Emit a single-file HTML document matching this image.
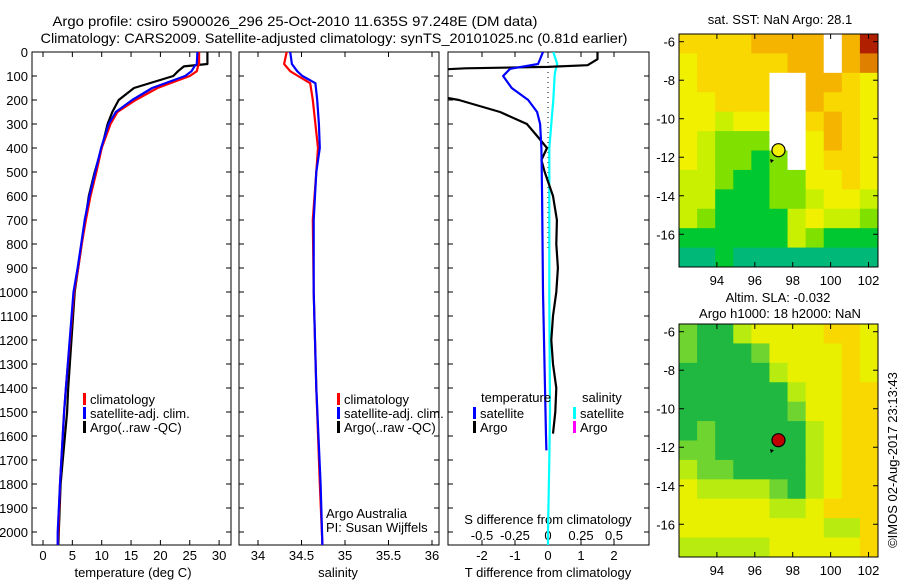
<!DOCTYPE html>
<html><head><meta charset="utf-8"><style>
html,body{margin:0;padding:0;background:#fff}
svg{display:block;font-family:"Liberation Sans",sans-serif}
text{font-size:13px;fill:#000}
</style></head><body>
<svg id="fig" width="900" height="580" viewBox="0 0 900 580" xmlns="http://www.w3.org/2000/svg">
<text x="295" y="26" text-anchor="middle" textLength="485" lengthAdjust="spacingAndGlyphs" style="font-size:14px">Argo profile: csiro 5900026_296 25-Oct-2010 11.635S 97.248E (DM data)</text>
<text x="334" y="43" text-anchor="middle" textLength="587" lengthAdjust="spacingAndGlyphs" style="font-size:14px">Climatology: CARS2009. Satellite-adjusted climatology: synTS_20101025.nc (0.81d earlier)</text>
<g id="g"></g>
</svg>
<script>
// ---- data ----
const depthLevels = [0,50,60,80,100,150,200,250,300,400,500,600,700,800,900,1000,1400,1500,1800,2000,2054];
const tempClim = [26.6,26.6,26.4,26.2,25.0,19.5,15.8,12.7,11.5,10.0,9.1,8.1,7.3,6.6,6.0,5.3,3.9,3.6,2.9,2.6,2.5];
const tempSat  = [26.3,26.2,25.8,25.3,24.2,18.6,15.2,12.4,11.2,9.9,8.9,7.9,7.1,6.5,5.9,5.2,3.9,3.6,2.9,2.5,2.5];
const tempArgo = [28.0,28.0,24.0,23.0,22.2,15.5,12.9,11.8,11.0,10.0,8.8,7.8,7.2,6.6,6.0,5.4,4.3,4.1,3.0,2.7,2.6];
const salDepth = [0,50,80,100,130,200,300,400,500,700,1000,1400,1800,2054];
const salClim = [34.33,34.30,34.37,34.46,34.60,34.63,34.66,34.69,34.67,34.63,34.64,34.67,34.71,34.74];
const salSat  = [34.37,34.39,34.45,34.51,34.66,34.68,34.70,34.71,34.67,34.64,34.64,34.67,34.72,34.74];
const tdDepth = [0,30,55,62,68,75,180,200,250,300,350,400,450,500,600,700,800,900,1000,1100,1200,1300,1400,1500,1590];
const tdArgo = [1.5,1.5,1.2,0.0,-2.5,-3.5,-3.5,-2.7,-1.45,-0.64,-0.33,-0.03,-0.2,-0.1,0.15,0.27,0.25,0.3,0.25,0.15,0.1,0.15,0.25,0.22,0.15];
const tdSatDepth = [0,50,70,100,150,200,250,300,400,600,1000,1600,1660];
const tdSat = [-0.15,-0.3,-1.15,-1.36,-1.1,-0.6,-0.33,-0.24,-0.2,-0.18,-0.15,-0.06,-0.05];
const sdDepth = [0,50,80,100,200,300,400,600,1000,1500,1700,2000,2054];
const sdSat = [0.04,0.07,0.055,0.05,0.04,0.025,0.01,0.01,0.01,0.015,0.01,0.0,0.0];
const depthTicks = [0,100,200,300,400,500,600,700,800,900,1000,1100,1200,1300,1400,1500,1600,1700,1800,1900,2000];
const tempTicks = [0,5,10,15,20,25,30];
const salTicks = [34,34.5,35,35.5,36];
const tdTicks = [-2,-1,0,1,2];
const sdTicks = [-0.5,-0.25,0,0.25,0.5];
const sdTickLabels = ["-0.5","-0.25","0","0.25","0.5"];
const lonTicks = [94,96,98,100,102];
const latTicks = [-6,-8,-10,-12,-14,-16];
// heatmap codes (rows lat -6..-17, cols lon 92..102), -1 = NaN
const sstGrid = [
[5,5,5,5,6,6,6,6,-1,6,8],
[4,5,5,5,5,5,6,6,-1,6,7],
[4,5,5,5,5,-1,-1,6,6,5,4],
[4,4,5,5,5,-1,-1,6,5,5,4],
[4,4,3,4,4,-1,-1,5,6,5,4],
[4,3,2,2,2,-1,-1,4,6,5,4],
[4,3,2,2,1,2,-1,4,5,5,4],
[3,3,2,1,1,2,2,4,4,5,4],
[3,3,1,1,1,2,2,3,4,4,3],
[3,2,1,1,1,1,3,4,3,3,2],
[1,1,1,1,1,1,3,2,1,1,1],
[0,0,1,0,0,0,0,0,0,0,0]];
const slaGrid = [
[2,1,1,3,4,4,4,4,5,5,4],
[2,1,1,1,2,4,4,4,4,5,4],
[1,1,1,1,1,3,4,4,4,5,4],
[1,1,1,1,1,1,3,4,4,5,5],
[1,1,1,1,1,1,2,4,4,5,5],
[1,2,1,1,1,1,1,3,4,5,5],
[2,2,1,1,1,1,1,3,4,5,5],
[3,2,2,1,1,1,1,3,4,5,5],
[4,3,3,3,3,2,1,3,4,5,5],
[4,4,4,4,4,3,3,4,5,5,5],
[4,4,4,4,4,4,4,4,3,3,5],
[3,3,3,3,3,4,4,4,4,4,5]];
const sstColors = ["#00b878","#00c830","#80e000","#c8f000","#f0f000","#f8d800","#f4b400","#e08000","#b02000"];
const slaColors = ["#009850","#20b840","#70d430","#b8ec10","#e8f000","#f8d800"];
const floatLon = 97.248, floatLat = -11.635;

// ---- helpers ----
const NS="http://www.w3.org/2000/svg";
const G=document.getElementById('g');
function el(tag,attrs,parent){const e=document.createElementNS(NS,tag);for(const k in attrs)e.setAttribute(k,attrs[k]);(parent||G).appendChild(e);return e;}
function txt(x,y,s,anchor,parent){const t=el('text',{x:x,y:y,'text-anchor':anchor||'middle'},parent);t.textContent=s;return t;}
const yTop=52, yBot=545;
const yD = d => yTop + d*0.24;
const xT = v => 43 + v*5.87;
const xS = v => 258 + (v-34)*87;
const xTD = v => 548 + v*33;
const xSD = v => 548 + v*132;

function panel(x0,x1,name){
  const r=el('rect',{x:x0,y:yTop,width:x1-x0,height:yBot-yTop,fill:'#fff',stroke:'#000','stroke-width':1});
  
  
}
function xTicks(ticks,fx,labels,ly,name){
  const g=el('g',{});
  
  
  ticks.forEach((t,i)=>{const x=fx(t);
    el('line',{x1:x,x2:x,y1:yTop,y2:yTop+5,stroke:'#000'},g);
    el('line',{x1:x,x2:x,y1:yBot,y2:yBot-5,stroke:'#000'},g);
    if(labels) txt(x,ly,labels[i],'middle',g);});
}
function yTicks(x0,x1,withLabels){
  const g=el('g',{});
  
  
  depthTicks.forEach(d=>{const y=yD(d);
    el('line',{x1:x0,x2:x0+5,y1:y,y2:y,stroke:'#000'},g);
    el('line',{x1:x1,x2:x1-5,y1:y,y2:y,stroke:'#000'},g);
    if(withLabels) txt(28,y+5,String(d),'end',g);});
}
function line(xs,ds,fx,color,name,clip){
  let p='';let started=false;
  xs.forEach((v,i)=>{ if(v===null){return;} p+=(started?'L':'M')+fx(v).toFixed(1)+','+yD(ds[i]).toFixed(1); started=true;});
  const e=el('path',{d:p,fill:'none',stroke:color,'stroke-width':2.2,'stroke-linejoin':'round'});
  if(clip) e.setAttribute('clip-path','url(#'+clip+')');
  
  
}
function legendBar(x,y,color,label,name){
  const g=el('g',{});
  
  
  el('rect',{x:x,y:y-9,width:3,height:12,fill:color},g);
  if(label) txt(x+7,y+2,label,'start',g);
}

// defs for clipping
const defs=el('defs',{});
const cp=el('clipPath',{id:'c3'},defs); el('rect',{x:448,y:yTop,width:201,height:yBot-yTop},cp);
const cm1=el('clipPath',{id:'m1'},defs); el('rect',{x:679,y:34,width:199,height:233},cm1);
const cm2=el('clipPath',{id:'m2'},defs); el('rect',{x:679,y:324,width:199,height:233},cm2);

// Panel 1 temperature
panel(32,231,'temperature-panel');
yTicks(32,231,true);
xTicks(tempTicks,xT,tempTicks.map(String),560,'temperature-x-axis');
txt(133,577,'temperature (deg C)');
line(tempArgo,depthLevels,xT,'#000','argo-temperature-line');
line(tempClim,depthLevels,xT,'#f00','climatology-temperature-line');
line(tempSat,depthLevels,xT,'#00f','satellite-temperature-line');
legendBar(83,402,'#f00','climatology','legend-climatology');
legendBar(83,416,'#00f','satellite-adj. clim.','legend-satellite-adj');
legendBar(83,430,'#000','Argo(..raw -QC)','legend-argo');

// Panel 2 salinity
panel(239,439,'salinity-panel');
yTicks(239,439,false);
xTicks(salTicks,xS,salTicks.map(String),560,'salinity-x-axis');
txt(338,577,'salinity');
line(salClim,salDepth,xS,'#f00','climatology-salinity-line');
line(salSat,salDepth,xS,'#00f','satellite-salinity-line');
legendBar(337,402,'#f00','climatology','legend-climatology-2');
legendBar(337,416,'#00f','satellite-adj. clim.','legend-satellite-adj-2');
legendBar(337,430,'#000','Argo(..raw -QC)','legend-argo-2');
txt(326,518,'Argo Australia','start');
txt(326,532,'PI: Susan Wijffels','start');

// Panel 3 differences
panel(448,649,'difference-panel');
yTicks(448,649,false);
xTicks(tdTicks,xTD,tdTicks.map(String),560,'t-difference-x-axis');
el('line',{x1:548,x2:548,y1:yTop,y2:250,stroke:'#000','stroke-dasharray':'1,4'});
const sl=el('g',{});  
sdTicks.forEach((t,i)=>{txt(xSD(t),540,sdTickLabels[i],'middle',sl);});
txt(548,524,'S difference from climatology');
txt(548,577,'T difference from climatology');
line(sdSat,sdDepth,xSD,'#00ffff','satellite-salinity-difference-line','c3');
line(tdArgo,tdDepth,xTD,'#000','argo-temperature-difference-line','c3');
line(tdSat,tdSatDepth,xTD,'#00f','satellite-temperature-difference-line','c3');
txt(481,402,'temperature','start');
txt(582,402,'salinity','start');
legendBar(473,416,'#00f','satellite','legend-t-satellite');
legendBar(473,430,'#000','Argo','legend-t-argo');
legendBar(573,416,'#00ffff','satellite','legend-s-satellite');
legendBar(573,430,'#ff00ff','Argo','legend-s-argo');

// Maps
function map(y0,grid,colors,name,clip,markerFill){
  const lonMin=92.0,lonMax=102.5,latMax=-5.6,latMin=-17.7,x0=679,w=199,h=233;
  const fx=l=>x0+(l-lonMin)/(lonMax-lonMin)*w;
  const fy=l=>y0+(latMax-l)/(latMax-latMin)*h;
  const g=el('g',{'clip-path':'url(#'+clip+')'});
  
  
  const nr=grid.length,nc=grid[0].length;
  grid.forEach((row,i)=>row.forEach((v,j)=>{
    const c=el('rect',{x:x0+j*w/nc,y:y0+i*h/nr,width:w/nc+0.6,height:h/nr+0.6,fill:v<0?'#fff':colors[v]},g);
    
    
  }));
  el('rect',{x:x0,y:y0,width:w,height:h,fill:'none',stroke:'#000'});
  lonTicks.forEach(l=>{const x=fx(l);el('line',{x1:x,x2:x,y1:y0,y2:y0+5,stroke:'#000'});el('line',{x1:x,x2:x,y1:y0+h,y2:y0+h-5,stroke:'#000'});txt(x,y0+h+18,String(l));});
  latTicks.forEach(l=>{const y=fy(l);el('line',{x1:x0,x2:x0+5,y1:y,y2:y,stroke:'#000'});el('line',{x1:x0+w,x2:x0+w-5,y1:y,y2:y,stroke:'#000'});txt(x0-4,y+5,String(l),'end');});
  el('path',{d:`M${fx(96.8)},${fy(-12.1)}l4,1l-3,3z`,fill:'#000'});
  const m=el('circle',{cx:fx(floatLon),cy:fy(floatLat),r:6.5,fill:markerFill,stroke:'#000','stroke-width':1.2});
  
  
}
map(34,sstGrid,sstColors,'sst-map','m1','#f0f000');
map(324,slaGrid,slaColors,'sla-map','m2','#c00000');
txt(780,24,'sat. SST: NaN Argo: 28.1');
txt(778,302,'Altim. SLA: -0.032');
txt(780,318,'Argo h1000: 18 h2000: NaN');
const imos=txt(0,0,'©IMOS 02-Aug-2017 23:13:43');
imos.setAttribute('transform','translate(897,460) rotate(-90)');

</script>
</body></html>
